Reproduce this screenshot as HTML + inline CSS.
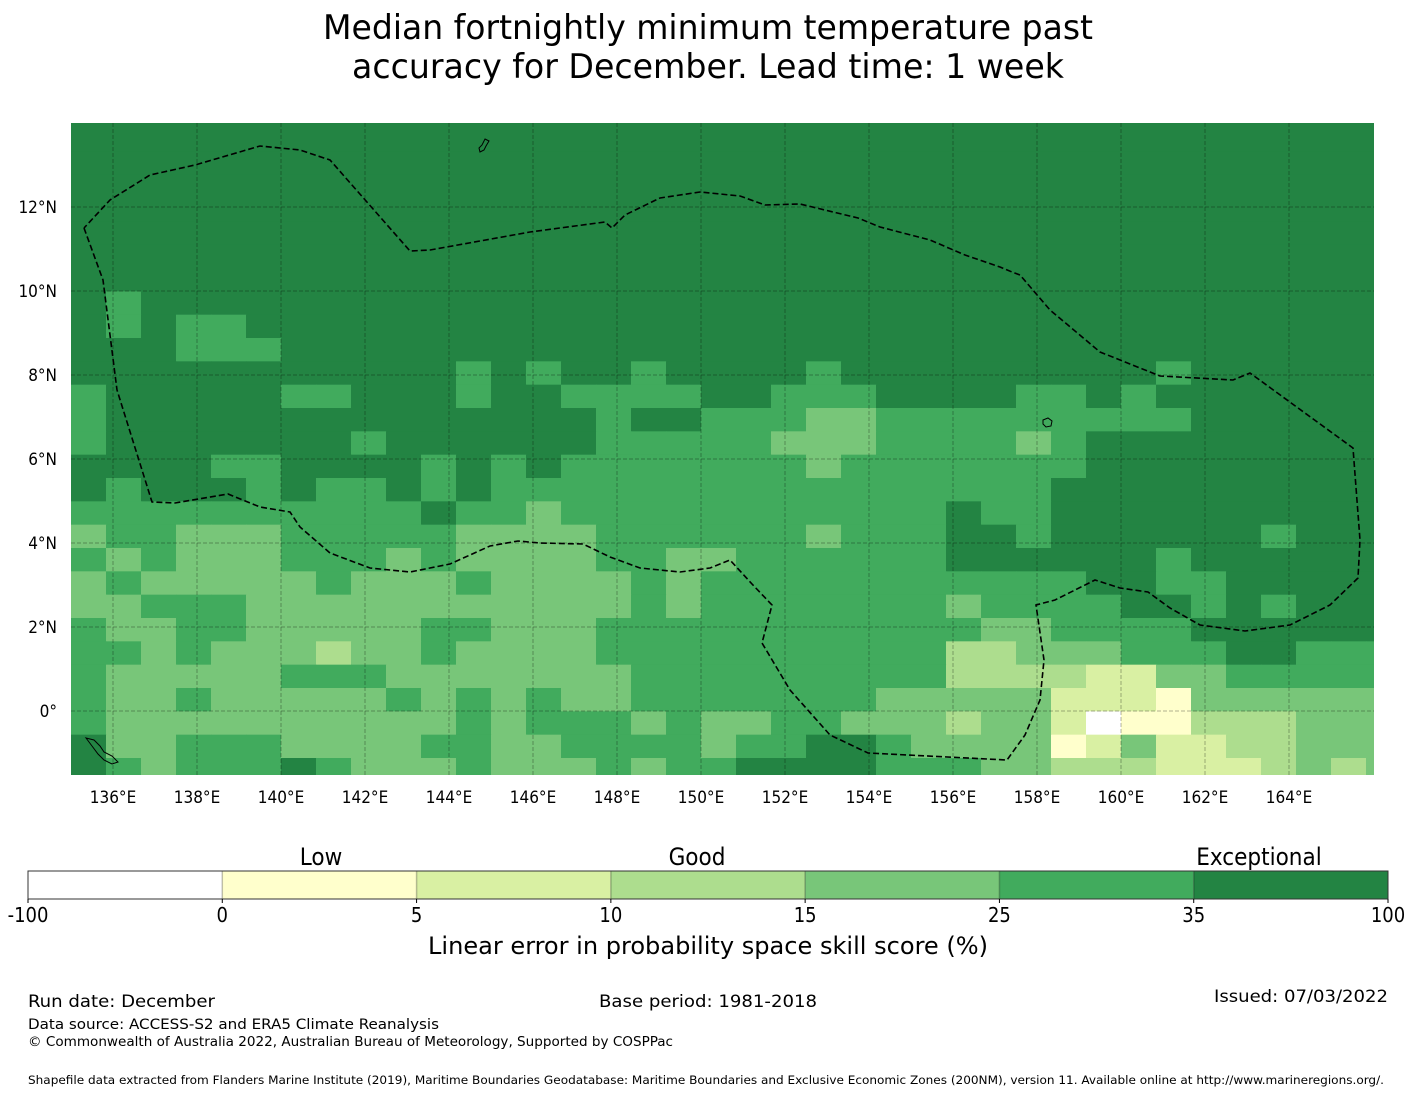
<!DOCTYPE html>
<html><head><meta charset="utf-8"><style>
html,body{margin:0;padding:0;background:#fff;}
svg{display:block;font-family:"DejaVu Sans Condensed","DejaVu Sans","Liberation Sans",sans-serif;}
</style></head><body>
<svg id="chart" width="1416" height="1095" viewBox="0 0 1416 1095" xmlns="http://www.w3.org/2000/svg">
<defs><clipPath id="mapclip"><rect x="71" y="123" width="1303" height="652"/></clipPath></defs>
<g font-size="34" text-anchor="middle" fill="#000">
<text x="708" y="39" textLength="770" lengthAdjust="spacingAndGlyphs">Median fortnightly minimum temperature past</text>
<text x="708" y="78" textLength="712" lengthAdjust="spacingAndGlyphs">accuracy for December. Lead time: 1 week</text>
</g>
<g id="cells" clip-path="url(#mapclip)"></g>
<g id="grid" clip-path="url(#mapclip)"></g>
<g clip-path="url(#mapclip)">
<polyline fill="none" stroke="#000" stroke-width="1.6" stroke-dasharray="6,3"
points="84,228 103,280 117,390 152,502 175,503 228,494 260,507 290,512 300,527 330,553 370,568 410,572 450,564 490,546 518,541 540,543 583,544 610,557 640,568 680,572 710,568 730,560 752,584 772,605 762,643 790,690 830,735 868,753 1007,760 1025,735 1040,700 1044,660 1036,605 1055,600 1095,580 1120,588 1148,592 1170,608 1200,625 1245,631 1290,625 1330,605 1358,578 1360,540 1353,448 1250,373 1233,380 1160,376 1100,352 1050,310 1020,275 1012,272 1000,267 965,255 930,240 880,227 858,218 800,204 765,205 740,196 700,192 660,198 625,215 612,228 605,222 530,232 430,250 410,251 330,160 300,150 260,146 195,165 150,175 110,200 84,228"/>
<path d="M485,139 l4,2 -3,5 -2,4 -4,2 -1,-4 3,-3z" fill="none" stroke="#000" stroke-width="1"/>
<path d="M86,738 l8,2 6,6 4,6 8,4 6,6 -6,2 -8,-4 -6,-6 -6,-8z" fill="none" stroke="#000" stroke-width="1"/>
<path d="M1043,420 l5,-2 4,3 -1,5 -5,1 -3,-3z" fill="none" stroke="#000" stroke-width="1"/>
</g>
<rect x="71" y="123" width="1303" height="652" fill="none" stroke="none"/>
<g id="xticks" font-size="17" text-anchor="middle"></g>
<g id="yticks" font-size="17" text-anchor="end"></g>
<g id="cbar"></g>
<g font-size="24" text-anchor="middle">
<text x="321" y="865">Low</text>
<text x="697" y="865">Good</text>
<text x="1259" y="865">Exceptional</text>
</g>
<text x="708" y="954" font-size="24" text-anchor="middle" textLength="560" lengthAdjust="spacingAndGlyphs">Linear error in probability space skill score (%)</text>
<g fill="#000">
<text x="28" y="1007" font-size="17" textLength="187" lengthAdjust="spacingAndGlyphs">Run date: December</text>
<text x="599" y="1007" font-size="17" textLength="218" lengthAdjust="spacingAndGlyphs">Base period: 1981-2018</text>
<text x="1388" y="1002" font-size="17" text-anchor="end" textLength="174" lengthAdjust="spacingAndGlyphs">Issued: 07/03/2022</text>
<text x="28" y="1029" font-size="14.5" textLength="411" lengthAdjust="spacingAndGlyphs">Data source: ACCESS-S2 and ERA5 Climate Reanalysis</text>
<text x="28" y="1046" font-size="13" textLength="645" lengthAdjust="spacingAndGlyphs">© Commonwealth of Australia 2022, Australian Bureau of Meteorology, Supported by COSPPac</text>
<text x="28" y="1084" font-size="11.5" textLength="1356" lengthAdjust="spacingAndGlyphs">Shapefile data extracted from Flanders Marine Institute (2019), Maritime Boundaries Geodatabase: Maritime Boundaries and Exclusive Economic Zones (200NM), version 11. Available online at http://www.marineregions.org/.</text>
</g>
</svg>
<script>
// ---- data ----
const levelColors = ["#ffffff","#ffffcc","#d9f0a3","#addd8e","#78c679","#41ab5d","#238443"];
const cbLabels = ["-100","0","5","10","15","25","35","100"];
const lonTicks = [136,138,140,142,144,146,148,150,152,154,156,158,160,164-2,164];
const latTicks = [12,10,8,6,4,2,0];
// grid levels per row (top to bottom), 38 columns each; index into levelColors
const gridRows = [
"6666666666 6666666666 6666666666 66666666",
"6666666666 6666666666 6666666666 66666666",
"6666666666 6666666666 6666666666 66666666",
"6666666666 6666666666 6666666666 66666666",
"6666666666 6666666666 6666666666 66666666",
"6666666666 6666666666 6666666666 66666666",
"6666666666 6666666666 6666666666 66666666",
"6666666666 6666666666 6666666666 66666666",
"6566666666 6666666666 6666666666 66666666",
"6565566666 6666666666 6666666666 66666666",
"6665556666 6666666666 6666666666 66666666",
"6666666666 6565665666 6566666666 65666666",
"5666665566 6566555566 5556666556 56666666",
"5666666666 6666656655 5445555555 55666666",
"5666666656 6666655555 4445555456 66666666",
"6666556666 5656555555 5455555556 66666666",
"6566656556 5655555555 5555555566 66666666",
"5555555555 6554555555 5555565566 66666666",
"4554445555 5444455555 5455566566 66665666",
"5454445554 5444455445 5555566666 65666666",
"4544444544 4544445455 5555555556 65566666",
"4455544444 4444445455 5555545555 66565666",
"5445544444 5544455555 5555554455 55666666",
"5545444344 5444455555 5555533444 55566555",
"5444445554 4444445555 5555533332 24455555",
"5445444445 4545445555 5554444422 21444444",
"5444444444 4545554544 5544434420 11333444",
"6445554444 5544555545 5665444412 42233444",
"6545556544 4544454556 6665554433 32223434"
];
// ---- axis functions ----
const MAP_L=71, MAP_T=123, MAP_R=1374, MAP_B=775;
const PX_PER_DEG=42, LON0=135, LAT_TOP=12+(207-123)/42;
function lonX(lon){return MAP_L+(lon-LON0)*PX_PER_DEG;}
function latY(lat){return 207+(12-lat)*PX_PER_DEG;}
const CELL_W=35, CELL_H=70/3, ROW0=758-28*CELL_H;
function colX(c){return MAP_L+c*CELL_W;}
function rowY(r){return ROW0+r*CELL_H;}
const NS="http://www.w3.org/2000/svg";
function mk(tag,attrs,parent){const e=document.createElementNS(NS,tag);for(const k in attrs)e.setAttribute(k,attrs[k]);parent.appendChild(e);return e;}

const cells=document.getElementById('cells');
gridRows.forEach((row,r)=>{
  const s=row.replace(/ /g,'');
  for(let c=0;c<s.length;c++){
    const el=mk('rect',{x:colX(c),y:rowY(r),width:CELL_W+0.5,height:CELL_H+0.5,fill:levelColors[+s[c]]},cells);
    
    
  }
});
const grid=document.getElementById('grid');
const xt=document.getElementById('xticks');
lonTicks.forEach(lon=>{
  const x=lonX(lon);
  const l=mk('line',{x1:x,x2:x,y1:MAP_T,y2:MAP_B,stroke:'rgba(0,0,0,0.3)','stroke-width':1,'stroke-dasharray':'4,2'},grid);
  
  
  const t=mk('text',{x:x,y:803},xt);t.textContent=lon+'°E';
  
  
});
const yt=document.getElementById('yticks');
latTicks.forEach(lat=>{
  const y=latY(lat);
  const l=mk('line',{x1:MAP_L,x2:MAP_R,y1:y,y2:y,stroke:'rgba(0,0,0,0.3)','stroke-width':1,'stroke-dasharray':'4,2'},grid);
  
  
  const t=mk('text',{x:57,y:y+6},yt);t.textContent=lat===0?'0°':lat+'°N';
  
  
});
// colorbar
const cb=document.getElementById('cbar');
const CB_L=28, CB_R=1388, CB_T=871, CB_H=28, segW=(CB_R-CB_L)/7;
for(let i=0;i<7;i++){
  const r=mk('rect',{x:CB_L+i*segW,y:CB_T,width:segW,height:CB_H,fill:levelColors[i]},cb);
  
  
  if(i>0){const d=mk('line',{x1:CB_L+i*segW,x2:CB_L+i*segW,y1:CB_T,y2:CB_T+CB_H,stroke:'rgba(0,0,0,0.25)','stroke-width':1.5},cb);
    
    }
}
const fr=mk('rect',{x:CB_L,y:CB_T,width:CB_R-CB_L,height:CB_H,fill:'none',stroke:'#333','stroke-width':1},cb);


cbLabels.forEach((lab,i)=>{
  const x=CB_L+i*segW;
  const tk=mk('line',{x1:x,x2:x,y1:CB_T+CB_H,y2:CB_T+CB_H+4,stroke:'#000'},cb);
  
  
  const t=mk('text',{x:x,y:922,'font-size':20,'text-anchor':'middle'},cb);t.textContent=lab;
  
  
});
</script>
</body></html>
